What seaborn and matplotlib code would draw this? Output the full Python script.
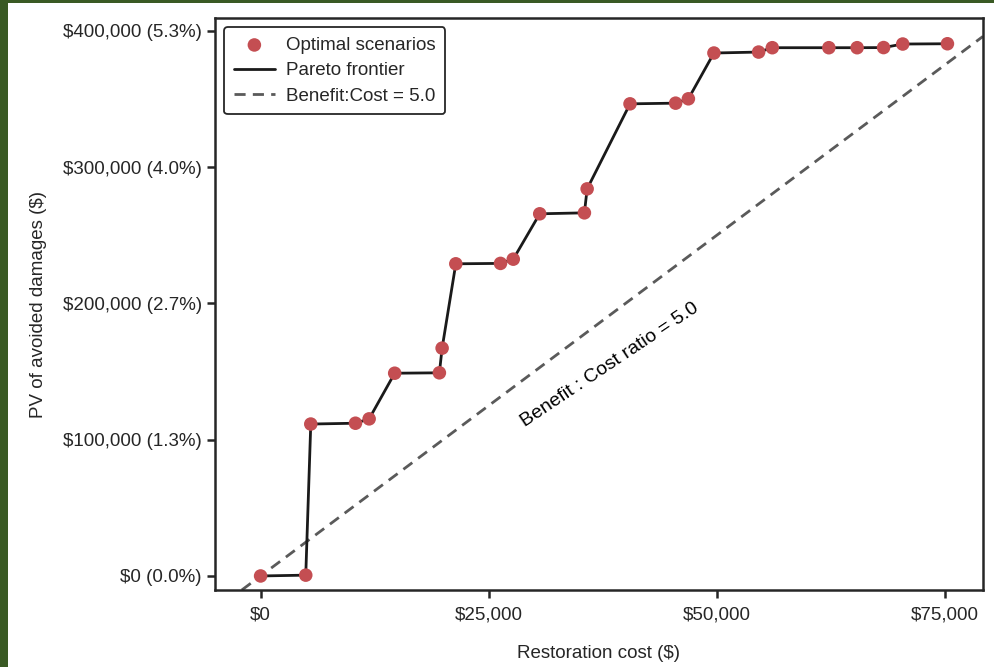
import numpy as np
import pandas as pd
import seaborn as sns
import matplotlib.pyplot as plt
from matplotlib.patches import Rectangle
from matplotlib.ticker import FuncFormatter

# pareto frontier
cost = [0, 4950, 5500, 10400, 11900, 14700, 19600, 19900, 21400, 26300,
        27700, 30600, 35500, 35800, 40500, 45500, 46900, 49700, 54600, 56100,
        62300, 65400, 68300, 70400, 75300]
benefit = [0, 600, 111500, 112100, 115300, 148800, 149100, 167200, 229100, 229400,
           232500, 265800, 266500, 284100, 346500, 347000, 350200, 383800, 384500, 387700,
           387700, 387700, 387800, 390400, 390600]
bc_ratio = 5.0
total_damages = 7_500_000
x_ticks = [0, 25000, 50000, 75000]
y_ticks = [0, 100000, 200000, 300000, 400000]

df = pd.DataFrame({'cost': cost, 'benefit': benefit})

sns.set_theme(style='ticks')
plt.rcParams['font.family'] = ['Liberation Sans', 'DejaVu Sans']

fig = plt.figure(figsize=(9.95, 6.67), dpi=100, facecolor='#3a5a24')
fig.patches.append(Rectangle((8 / 995, 0), 1, 1 - 3 / 667, transform=fig.transFigure,
                             facecolor='white', edgecolor='none', zorder=-1))
ax = fig.add_axes([215 / 995, 1 - 590 / 667, (983 - 215) / 995, (590 - 18) / 667])

ax.set_xlim(-5000, 79200)
ax.set_ylim(-10300, 409500)

ax.axline((0, 0), slope=bc_ratio, color='#5a5a5a', lw=2, ls=(0, (4, 2.6)),
          label=f'Benefit:Cost = {bc_ratio}', zorder=1)
sns.lineplot(data=df, x='cost', y='benefit', color='#1a1a1a', lw=2, ax=ax,
             label='Pareto frontier', zorder=2)
sns.scatterplot(data=df, x='cost', y='benefit', color='#c44e52', s=95, edgecolor='none',
                ax=ax, label='Optimal scenarios', zorder=3)

# annotation along the ratio line
tx, ty = 38300, 155000
ang = ax.transData.transform_angles(np.array([np.degrees(np.arctan(bc_ratio))]),
                                    np.array([[tx, ty]]))[0]
ax.text(tx, ty, f'Benefit : Cost ratio = {bc_ratio}', rotation=ang - 3, rotation_mode='anchor',
        ha='center', va='center', fontsize=14, color='black')

ax.set_xticks(x_ticks)
ax.set_yticks(y_ticks)
ax.xaxis.set_major_formatter(FuncFormatter(lambda v, p: f'${v:,.0f}'))
ax.yaxis.set_major_formatter(FuncFormatter(
    lambda v, p: f'${v:,.0f} ({v / total_damages * 100:.1f}%)'))
ax.tick_params(labelsize=13.5, length=6, width=1.8, colors='#262626')
ax.tick_params(axis='x', pad=6)
for s in ax.spines.values():
    s.set_linewidth(1.8)
    s.set_color('#262626')

ax.set_xlabel('Restoration cost ($)', fontsize=13.5, labelpad=15)
ax.set_ylabel('PV of avoided damages ($)', fontsize=13.5, labelpad=11)

h, l = ax.get_legend_handles_labels()
order = [l.index('Optimal scenarios'), l.index('Pareto frontier'), l.index(f'Benefit:Cost = {bc_ratio}')]
leg = ax.legend([h[i] for i in order], [l[i] for i in order], loc='upper left',
                fontsize=13.5, frameon=True, fancybox=True, edgecolor='#262626',
                framealpha=1, borderpad=0.5, labelspacing=0.45, handlelength=2.2,
                handletextpad=0.6)
leg.get_frame().set_linewidth(1.3)

fig.savefig('out.png', dpi=100, facecolor=fig.get_facecolor())
